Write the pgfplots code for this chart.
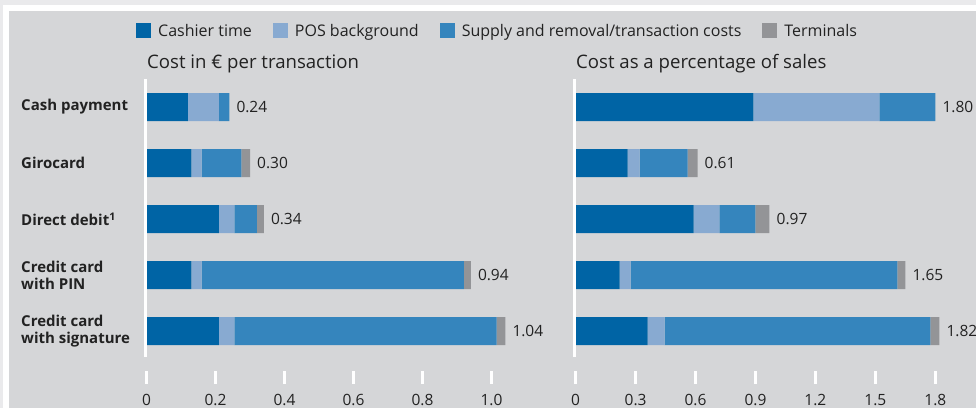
\documentclass[border=0pt]{standalone}
\usepackage{fontspec}
\setmainfont{Open Sans}
\usepackage{pgfplots}
\usepackage{pgfplotstable}
\pgfplotsset{compat=1.18}

\definecolor{cashier}{HTML}{0064A5}
\definecolor{pos}{HTML}{88AAD1}
\definecolor{supply}{HTML}{3585BD}
\definecolor{term}{HTML}{939497}
\definecolor{panel}{HTML}{D5D6D8}
\definecolor{band}{HTML}{EAEAEC}
\definecolor{txt}{HTML}{222222}

\pgfplotstableread{
row cashier pos supply term total
0 0.12 0.09 0.03 0 0.24
1 0.13 0.03 0.115 0.025 0.30
2 0.21 0.045 0.065 0.02 0.34
3 0.13 0.03 0.76 0.02 0.94
4 0.21 0.045 0.76 0.025 1.04
}\leftdata

\pgfplotstableread{
row cashier pos supply term total
0 0.89 0.63 0.28 0 1.80
1 0.26 0.06 0.24 0.05 0.61
2 0.59 0.13 0.18 0.07 0.97
3 0.22 0.055 1.335 0.04 1.65
4 0.36 0.085 1.33 0.045 1.82
}\rightdata

\pgfplotsset{
  frame/.style={
    scale only axis, anchor=south west, height=305pt,
    xmin=0, ymin=-0.5, ymax=4.946, y dir=reverse,
    clip=false,
  },
  costbar/.style={
    frame,
    xbar stacked, bar width=28pt,
    axis line style={draw=none},
    xtick pos=bottom, ytick pos=left,
    tick align=inside,
    xtick style={draw=white, line width=2.6pt},
    major tick length=13pt,
    ytick style={draw=none},
    xticklabel style={anchor=north, inner sep=0pt, yshift=-10pt, text=txt, font=\fontsize{15.5}{18}\selectfont},
    legend image code/.code={\fill[##1] (0pt,-7.5pt) rectangle (15pt,7.5pt);},
  },
  valaxis/.style={
    frame, hide axis,
  },
  valnodes/.style={
    draw=none, mark=none,
    nodes near coords, point meta=explicit symbolic,
    every node near coord/.append style={anchor=west, inner sep=0pt, xshift=7pt, text=txt, font=\fontsize{15.5}{18}\selectfont},
  },
}

\begin{document}
\begin{tikzpicture}[x=1pt,y=1pt]
\useasboundingbox (0,0) rectangle (976,408);
\fill[band] (0,0) rectangle (976,408);
\fill[white] (3,0) rectangle (976,403);
\fill[panel] (9,0) rectangle (976,397);

\node[anchor=base west, inner sep=0pt, text=txt, font=\fontsize{18.6}{21}\selectfont] at (147,340) {Cost in € per transaction};
\node[anchor=base west, inner sep=0pt, text=txt, font=\fontsize{18.6}{21}\selectfont] at (576,340) {Cost as a percentage of sales};

\begin{axis}[costbar,
  at={(146.5pt,24pt)}, width=345pt, xmax=1.0,
  xtick={0,0.2,0.4,0.6,0.8,1.0},
  xticklabels={0,0.2,0.4,0.6,0.8,1.0},
  ytick={0,1,2,3,4},
  yticklabels={{Cash payment},{Girocard},{Direct debit\textsuperscript{1}},{Credit card\\with PIN},{Credit card\\with signature}},
  yticklabel style={anchor=west, align=left, inner sep=0pt, xshift=-125.5pt, text=txt, font=\bfseries\fontsize{15}{17}\selectfont},
  legend columns=4,
  legend style={at={(-0.0304,1.158)}, anchor=west, draw=none, fill=none, inner sep=0pt,
    nodes={inner sep=0pt, text=txt, font=\fontsize{16}{18}\selectfont},
    cells={anchor=west},
    /tikz/every odd column/.append style={column sep=7pt},
    /tikz/every even column/.append style={column sep=21pt}},
]
\draw[white, line width=3pt] (axis cs:-0.003,-0.5) -- (axis cs:-0.003,4.46);
\addplot[fill=cashier, draw=none] table[x=cashier, y=row] \leftdata;
\addplot[fill=pos, draw=none] table[x=pos, y=row] \leftdata;
\addplot[fill=supply, draw=none] table[x=supply, y=row] \leftdata;
\addplot[fill=term, draw=none] table[x=term, y=row] \leftdata;
\legend{Cashier time, POS background, Supply and removal/transaction costs, Terminals}
\end{axis}
\begin{axis}[valaxis, at={(146.5pt,24pt)}, width=345pt, xmax=1.0]
\addplot[valnodes] table[x=total, y=row, meta=total] \leftdata;
\end{axis}

\begin{axis}[costbar,
  at={(575.6pt,24pt)}, width=359.7pt, xmax=1.8,
  xtick={0,0.3,0.6,0.9,1.2,1.5,1.8},
  xticklabels={0,0.3,0.6,0.9,1.2,1.5,1.8},
  ytick=\empty,
]
\draw[white, line width=3pt] (axis cs:-0.005,-0.5) -- (axis cs:-0.005,4.46);
\addplot[fill=cashier, draw=none] table[x=cashier, y=row] \rightdata;
\addplot[fill=pos, draw=none] table[x=pos, y=row] \rightdata;
\addplot[fill=supply, draw=none] table[x=supply, y=row] \rightdata;
\addplot[fill=term, draw=none] table[x=term, y=row] \rightdata;
\end{axis}
\begin{axis}[valaxis, at={(575.6pt,24pt)}, width=359.7pt, xmax=1.8]
\addplot[valnodes] table[x=total, y=row, meta=total] \rightdata;
\end{axis}
\end{tikzpicture}
\end{document}
